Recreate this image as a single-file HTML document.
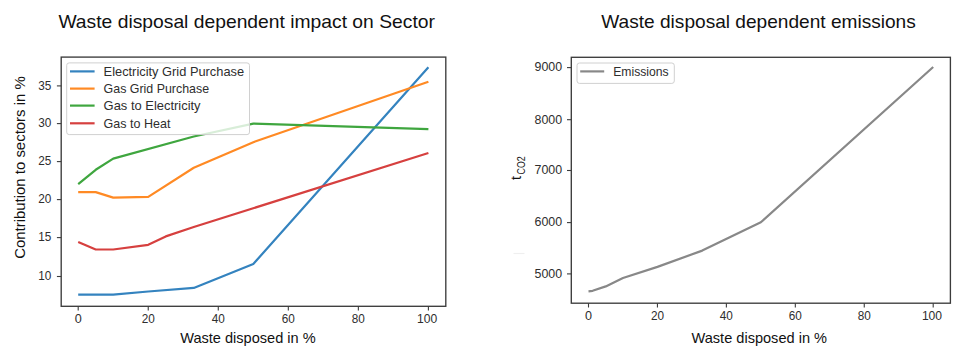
<!DOCTYPE html>
<html><head><meta charset="utf-8"><style>
html,body{margin:0;padding:0;background:#fff;width:972px;height:358px;overflow:hidden}
svg{display:block;font-family:"Liberation Sans", sans-serif}
</style></head><body>
<svg width="972" height="358" viewBox="0 0 972 358"><rect width="972" height="358" fill="#fff"/><text x="58.4" y="27.7" font-size="18.5" textLength="376.5" lengthAdjust="spacingAndGlyphs" fill="#111">Waste disposal dependent impact on Sector</text><text x="601.3" y="27.7" font-size="18.5" textLength="314.5" lengthAdjust="spacingAndGlyphs" fill="#111">Waste disposal dependent emissions</text><defs><filter id="bl" x="-5%" y="-5%" width="110%" height="110%"><feGaussianBlur stdDeviation="0"/></filter><clipPath id="cl"><rect x="61.2" y="57.1" width="384.6" height="249.20000000000002"/></clipPath><clipPath id="cr"><rect x="571.3" y="57.3" width="379.1" height="245.89999999999998"/></clipPath></defs><g><g clip-path="url(#cl)" fill="none" stroke-width="2.2" stroke-linejoin="round" stroke-linecap="butt"><polyline points="78.20,294.70 113.22,294.70 148.24,291.50 193.77,287.90 253.30,264.00 428.40,67.30" stroke="#3483bf"/><polyline points="78.20,192.20 95.71,192.10 113.22,197.60 148.24,196.90 193.77,167.80 253.30,142.20 428.40,81.80" stroke="#ff8a24"/><polyline points="78.20,184.20 95.71,169.80 113.22,158.60 193.77,136.50 253.30,123.60 428.40,129.20" stroke="#3fa63f"/><polyline points="78.20,241.90 95.71,249.50 113.22,249.50 148.24,244.80 165.75,236.40 193.77,227.00 428.40,153.00" stroke="#d6403f"/></g></g><rect x="66.7" y="62.9" width="182.8" height="71.69999999999999" rx="2.5" fill="#fff" fill-opacity="0.8" stroke="#d0d0d0" stroke-width="1"/><line x1="70" x2="94.6" y1="71.4" y2="71.4" stroke="#3483bf" stroke-width="2.2"/><text x="103.6" y="75.9" font-size="12.6" fill="#2e2e2e" textLength="140.5" lengthAdjust="spacingAndGlyphs">Electricity Grid Purchase</text><line x1="70" x2="94.6" y1="88.6" y2="88.6" stroke="#ff8a24" stroke-width="2.2"/><text x="103.6" y="93.1" font-size="12.6" fill="#2e2e2e" textLength="105.5" lengthAdjust="spacingAndGlyphs">Gas Grid Purchase</text><line x1="70" x2="94.6" y1="105.6" y2="105.6" stroke="#3fa63f" stroke-width="2.2"/><text x="103.6" y="110.1" font-size="12.6" fill="#2e2e2e" textLength="97.0" lengthAdjust="spacingAndGlyphs">Gas to Electricity</text><line x1="70" x2="94.6" y1="123.3" y2="123.3" stroke="#d6403f" stroke-width="2.2"/><text x="103.6" y="127.8" font-size="12.6" fill="#2e2e2e" textLength="66.8" lengthAdjust="spacingAndGlyphs">Gas to Heat</text><rect x="61.2" y="57.1" width="384.6" height="249.20000000000002" fill="none" stroke="#3c3c3c" stroke-width="1.35"/><line x1="78.20" x2="78.20" y1="306.3" y2="310.6" stroke="#3c3c3c" stroke-width="1.1"/><text x="78.20" y="323.2" font-size="12.6" text-anchor="middle" fill="#2e2e2e">0</text><line x1="148.24" x2="148.24" y1="306.3" y2="310.6" stroke="#3c3c3c" stroke-width="1.1"/><text x="148.24" y="323.2" font-size="12.6" text-anchor="middle" fill="#2e2e2e" textLength="13.1" lengthAdjust="spacingAndGlyphs">20</text><line x1="218.28" x2="218.28" y1="306.3" y2="310.6" stroke="#3c3c3c" stroke-width="1.1"/><text x="218.28" y="323.2" font-size="12.6" text-anchor="middle" fill="#2e2e2e" textLength="13.1" lengthAdjust="spacingAndGlyphs">40</text><line x1="288.32" x2="288.32" y1="306.3" y2="310.6" stroke="#3c3c3c" stroke-width="1.1"/><text x="288.32" y="323.2" font-size="12.6" text-anchor="middle" fill="#2e2e2e" textLength="13.1" lengthAdjust="spacingAndGlyphs">60</text><line x1="358.36" x2="358.36" y1="306.3" y2="310.6" stroke="#3c3c3c" stroke-width="1.1"/><text x="358.36" y="323.2" font-size="12.6" text-anchor="middle" fill="#2e2e2e" textLength="13.1" lengthAdjust="spacingAndGlyphs">80</text><line x1="428.40" x2="428.40" y1="306.3" y2="310.6" stroke="#3c3c3c" stroke-width="1.1"/><text x="427.20" y="323.2" font-size="12.6" text-anchor="middle" fill="#2e2e2e" textLength="20.2" lengthAdjust="spacingAndGlyphs">100</text><line x1="56.900000000000006" x2="61.2" y1="276.5" y2="276.5" stroke="#3c3c3c" stroke-width="1.1"/><text x="51.4" y="280.3" font-size="12.6" text-anchor="end" fill="#2e2e2e" textLength="13.1" lengthAdjust="spacingAndGlyphs">10</text><line x1="56.900000000000006" x2="61.2" y1="237.6" y2="237.6" stroke="#3c3c3c" stroke-width="1.1"/><text x="51.4" y="241.4" font-size="12.6" text-anchor="end" fill="#2e2e2e" textLength="13.1" lengthAdjust="spacingAndGlyphs">15</text><line x1="56.900000000000006" x2="61.2" y1="199.6" y2="199.6" stroke="#3c3c3c" stroke-width="1.1"/><text x="51.4" y="203.4" font-size="12.6" text-anchor="end" fill="#2e2e2e" textLength="13.1" lengthAdjust="spacingAndGlyphs">20</text><line x1="56.900000000000006" x2="61.2" y1="161.6" y2="161.6" stroke="#3c3c3c" stroke-width="1.1"/><text x="51.4" y="165.4" font-size="12.6" text-anchor="end" fill="#2e2e2e" textLength="13.1" lengthAdjust="spacingAndGlyphs">25</text><line x1="56.900000000000006" x2="61.2" y1="123.6" y2="123.6" stroke="#3c3c3c" stroke-width="1.1"/><text x="51.4" y="127.39999999999999" font-size="12.6" text-anchor="end" fill="#2e2e2e" textLength="13.1" lengthAdjust="spacingAndGlyphs">30</text><line x1="56.900000000000006" x2="61.2" y1="85.9" y2="85.9" stroke="#3c3c3c" stroke-width="1.1"/><text x="51.4" y="89.7" font-size="12.6" text-anchor="end" fill="#2e2e2e" textLength="13.1" lengthAdjust="spacingAndGlyphs">35</text><text x="180.2" y="342.6" font-size="14.5" textLength="135.5" lengthAdjust="spacingAndGlyphs" fill="#111">Waste disposed in %</text><text transform="translate(24.6,258.8) rotate(-90)" x="0" y="0" font-size="14.5" textLength="182.5" lengthAdjust="spacingAndGlyphs" fill="#111">Contribution to sectors in %</text><g><g clip-path="url(#cr)" fill="none" stroke-width="2.2" stroke-linejoin="round" stroke-linecap="butt"><polyline points="588.50,291.30 592.64,290.80 605.74,286.40 622.97,278.00 657.44,266.90 702.25,250.60 760.85,222.30 933.20,67.00" stroke="#888"/></g></g><rect x="577" y="63" width="97.29999999999995" height="20.400000000000006" rx="2.5" fill="#fff" fill-opacity="0.8" stroke="#d0d0d0" stroke-width="1"/><line x1="580.2" x2="604.2" y1="71.4" y2="71.4" stroke="#888" stroke-width="2.2"/><text x="613.2" y="75.9" font-size="12.6" fill="#2e2e2e" textLength="55.5" lengthAdjust="spacingAndGlyphs">Emissions</text><rect x="571.3" y="57.3" width="379.1" height="245.89999999999998" fill="none" stroke="#3c3c3c" stroke-width="1.35"/><line x1="588.50" x2="588.50" y1="303.2" y2="307.5" stroke="#3c3c3c" stroke-width="1.1"/><text x="588.50" y="319.8" font-size="12.6" text-anchor="middle" fill="#2e2e2e">0</text><line x1="657.44" x2="657.44" y1="303.2" y2="307.5" stroke="#3c3c3c" stroke-width="1.1"/><text x="657.44" y="319.8" font-size="12.6" text-anchor="middle" fill="#2e2e2e" textLength="13.1" lengthAdjust="spacingAndGlyphs">20</text><line x1="726.38" x2="726.38" y1="303.2" y2="307.5" stroke="#3c3c3c" stroke-width="1.1"/><text x="726.38" y="319.8" font-size="12.6" text-anchor="middle" fill="#2e2e2e" textLength="13.1" lengthAdjust="spacingAndGlyphs">40</text><line x1="795.32" x2="795.32" y1="303.2" y2="307.5" stroke="#3c3c3c" stroke-width="1.1"/><text x="795.32" y="319.8" font-size="12.6" text-anchor="middle" fill="#2e2e2e" textLength="13.1" lengthAdjust="spacingAndGlyphs">60</text><line x1="864.26" x2="864.26" y1="303.2" y2="307.5" stroke="#3c3c3c" stroke-width="1.1"/><text x="864.26" y="319.8" font-size="12.6" text-anchor="middle" fill="#2e2e2e" textLength="13.1" lengthAdjust="spacingAndGlyphs">80</text><line x1="933.20" x2="933.20" y1="303.2" y2="307.5" stroke="#3c3c3c" stroke-width="1.1"/><text x="932.00" y="319.8" font-size="12.6" text-anchor="middle" fill="#2e2e2e" textLength="20.2" lengthAdjust="spacingAndGlyphs">100</text><line x1="567.0" x2="571.3" y1="273.9" y2="273.9" stroke="#3c3c3c" stroke-width="1.1"/><text x="562.1" y="277.7" font-size="12.6" text-anchor="end" fill="#2e2e2e" textLength="27.6" lengthAdjust="spacingAndGlyphs">5000</text><line x1="567.0" x2="571.3" y1="222.6" y2="222.6" stroke="#3c3c3c" stroke-width="1.1"/><text x="562.1" y="226.4" font-size="12.6" text-anchor="end" fill="#2e2e2e" textLength="27.6" lengthAdjust="spacingAndGlyphs">6000</text><line x1="567.0" x2="571.3" y1="170.5" y2="170.5" stroke="#3c3c3c" stroke-width="1.1"/><text x="562.1" y="174.3" font-size="12.6" text-anchor="end" fill="#2e2e2e" textLength="27.6" lengthAdjust="spacingAndGlyphs">7000</text><line x1="567.0" x2="571.3" y1="119.7" y2="119.7" stroke="#3c3c3c" stroke-width="1.1"/><text x="562.1" y="123.5" font-size="12.6" text-anchor="end" fill="#2e2e2e" textLength="27.6" lengthAdjust="spacingAndGlyphs">8000</text><line x1="567.0" x2="571.3" y1="67.6" y2="67.6" stroke="#3c3c3c" stroke-width="1.1"/><text x="562.1" y="71.39999999999999" font-size="12.6" text-anchor="end" fill="#2e2e2e" textLength="27.6" lengthAdjust="spacingAndGlyphs">9000</text><text x="691.5" y="342.6" font-size="14.5" textLength="135.5" lengthAdjust="spacingAndGlyphs" fill="#111">Waste disposed in %</text><g transform="translate(521,180) rotate(-90)"><text x="0" y="0" font-size="14.5" fill="#111">t</text><text x="5.6" y="3.6" font-size="10.6" textLength="18.2" lengthAdjust="spacingAndGlyphs" fill="#111">CO2</text></g><line x1="513.5" x2="524.5" y1="253.5" y2="253.5" stroke="#efefef" stroke-width="1.2"/></svg>
</body></html>
